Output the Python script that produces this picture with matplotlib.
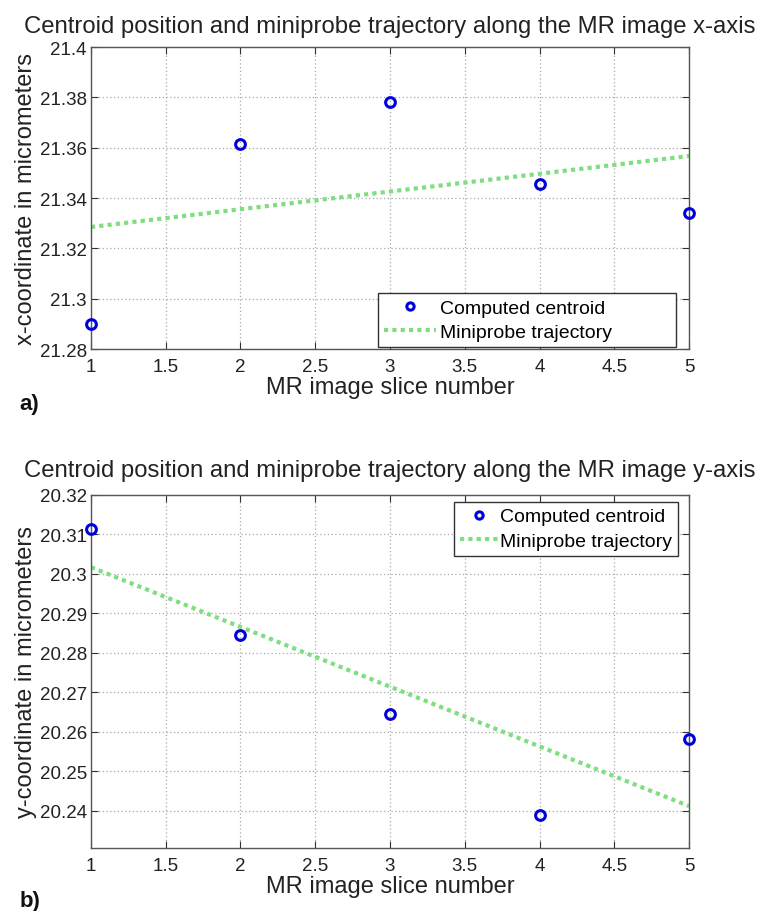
import numpy as np
import matplotlib
matplotlib.use("Agg")
import matplotlib.pyplot as plt

plt.rcParams['font.family'] = ['Liberation Sans', 'DejaVu Sans']

# slice numbers
slices = [1, 2, 3, 4, 5]

# a) x-axis centroid positions and fitted trajectory end points
x_centroid = [21.290, 21.3615, 21.378, 21.3455, 21.334]
x_traj = [21.3285, 21.3567]

# b) y-axis centroid positions and fitted trajectory end points
y_centroid = [20.3114, 20.2846, 20.2645, 20.2389, 20.2582]
y_traj = [20.3017, 20.2412]
traj_x = [1, 5]

x_ticks = [1, 1.5, 2, 2.5, 3, 3.5, 4, 4.5, 5]
x_tick_labels = ['1', '1.5', '2', '2.5', '3', '3.5', '4', '4.5', '5']
a_yticks = [21.28, 21.30, 21.32, 21.34, 21.36, 21.38, 21.40]
a_ylabels = ['21.28', '21.3', '21.32', '21.34', '21.36', '21.38', '21.4']
b_yticks = [20.24, 20.25, 20.26, 20.27, 20.28, 20.29, 20.30, 20.31, 20.32]
b_ylabels = ['20.24', '20.25', '20.26', '20.27', '20.28', '20.29', '20.3', '20.31', '20.32']

fig = plt.figure(figsize=(7.57, 9.12), dpi=100)
ax1 = fig.add_axes([0.1202, 0.6162, 0.790, 0.3311])
ax2 = fig.add_axes([0.1202, 0.0691, 0.790, 0.3871])


def style_axes(ax, yticks, ylabels, ylim, ylabel, title, tpad):
    ax.set_xlim(1, 5)
    ax.set_ylim(*ylim)
    ax.set_xticks(x_ticks)
    ax.set_xticklabels(x_tick_labels)
    ax.set_yticks(yticks)
    ax.set_yticklabels(ylabels)
    ax.tick_params(direction='in', top=True, right=True, labelsize=13.5, length=5,
                   colors='#333333', labelcolor='#222222', pad=3)
    ax.tick_params(axis='x', pad=6.5)
    ax.grid(True, linestyle=(0, (1, 2)), color='#aaaaaa', linewidth=0.9)
    for s in ax.spines.values():
        s.set_color('#555555')
        s.set_linewidth(1.0)
    ax.set_xlabel('MR image slice number', fontsize=17, color='#222222', labelpad=1)
    ax.set_ylabel(ylabel, fontsize=17, color='#222222', labelpad=2)
    ax.set_title(title, fontsize=17.2, color='#222222', pad=tpad)


ax1.plot(slices, x_centroid, 'o', mfc='none', mec='#0000dd', mew=2.2, ms=7,
         label='Computed centroid', clip_on=False, zorder=5)
ax1.plot(traj_x, x_traj, linestyle=(0, (1, 1)), color='#80dd80', lw=3,
         label='Miniprobe trajectory')
style_axes(ax1, a_yticks, a_ylabels, (21.28, 21.40),
           'x-coordinate in micrometers',
           'Centroid position and miniprobe trajectory along the MR image x-axis', 10.5)
ax1.legend(loc='lower left', bbox_to_anchor=(0.48, 0.0066, 0.498, 0.17), mode='expand',
           fontsize=14, frameon=True, fancybox=False, markerscale=0.75,
           edgecolor='#333333', framealpha=1, borderaxespad=0,
           handlelength=2.7, handletextpad=0.2, labelspacing=0.35, borderpad=0.3)

ax2.plot(slices, y_centroid, 'o', mfc='none', mec='#0000dd', mew=2.2, ms=7,
         label='Computed centroid', clip_on=False, zorder=5)
ax2.plot(traj_x, y_traj, linestyle=(0, (1, 1)), color='#80dd80', lw=3,
         label='Miniprobe trajectory')
style_axes(ax2, b_yticks, b_ylabels, (20.2306, 20.32),
           'y-coordinate in micrometers',
           'Centroid position and miniprobe trajectory along the MR image y-axis', 13.5)
ax2.legend(loc='upper right', bbox_to_anchor=(0.982, 0.980),
           fontsize=14, frameon=True, fancybox=False, markerscale=0.75,
           edgecolor='#333333', framealpha=1, borderaxespad=0,
           handlelength=2.0, handletextpad=0.1, labelspacing=0.35, borderpad=0.3)

fig.text(0.026, 0.556, 'a)', fontsize=16, fontweight='bold', color='#111111', va='center')
fig.text(0.026, 0.011, 'b)', fontsize=16, fontweight='bold', color='#111111', va='center')

fig.savefig('out.png', dpi=100)
